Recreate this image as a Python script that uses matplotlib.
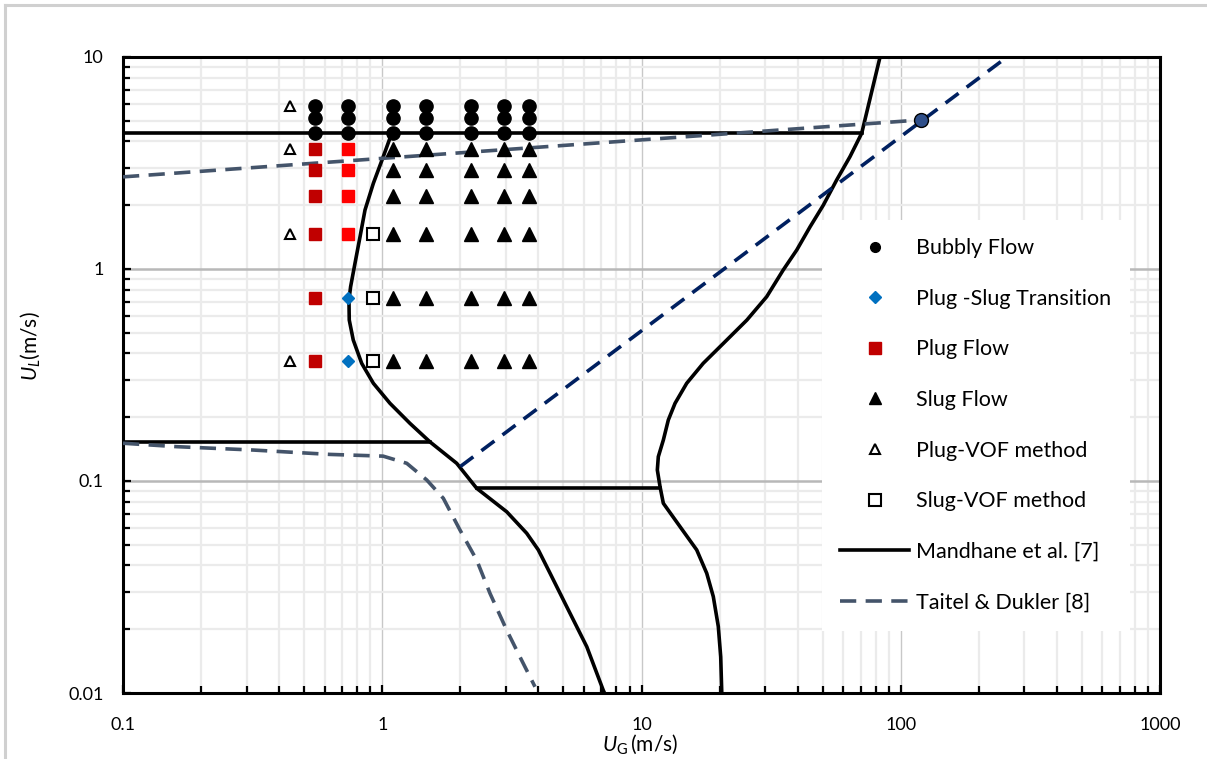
import matplotlib
matplotlib.use("Agg")
import matplotlib.pyplot as plt
from matplotlib.lines import Line2D
from matplotlib.ticker import FixedLocator, LogLocator, NullFormatter, FixedFormatter

plt.rcParams['font.family'] = ['Lato', 'DejaVu Sans']
plt.rcParams['mathtext.fontset'] = 'custom'
plt.rcParams['mathtext.rm'] = 'Lato'
plt.rcParams['mathtext.it'] = 'Lato:italic'

# ---- experimental flow-pattern observations (superficial velocities, m/s) ----
bubbly_ug = [0.55, 0.74, 1.10, 1.47, 2.20, 2.94, 3.68]
bubbly_ul = [4.40, 5.14, 5.87]

slug_ug = [1.10, 1.47, 2.20, 2.94, 3.68]
slug_ul = [0.367, 0.73, 1.47, 2.20, 2.94, 3.67]

plug_ug_a = [0.55, 0.55, 0.55, 0.55, 0.55, 0.55]
plug_ul_a = [3.67, 2.94, 2.20, 1.47, 0.73, 0.367]
plug_ug_b = [0.74, 0.74, 0.74, 0.74]
plug_ul_b = [3.67, 2.94, 2.20, 1.47]

trans_ug = [0.74, 0.74]
trans_ul = [0.73, 0.367]

plug_vof_ug = [0.44, 0.44, 0.44, 0.44]
plug_vof_ul = [5.87, 3.67, 1.47, 0.367]

slug_vof_ug = [0.92, 0.92, 0.92]
slug_vof_ul = [1.47, 0.73, 0.367]

marked_ug = [120.0]
marked_ul = [5.05]

# ---- Mandhane et al. map boundaries ----
mand_top_x = [0.1, 71.0]
mand_top_y = [4.37, 4.37]

mand_mid_x = [0.1, 1.527]
mand_mid_y = [0.153, 0.153]

mand_low_x = [2.31, 11.8]
mand_low_y = [0.0924, 0.0924]

mand_slug_x = [1.088, 1.009, 0.924, 0.858, 0.821, 0.785, 0.755, 0.744, 0.746, 0.773, 0.833,
               0.924, 1.071, 1.279, 1.527, 1.937, 2.313, 3.02, 3.607, 4.0, 4.44, 5.15, 6.15,
               7.12, 7.2]
mand_slug_y = [4.37, 3.387, 2.536, 1.898, 1.420, 1.064, 0.825, 0.714, 0.5745, 0.4624, 0.359,
               0.289, 0.2325, 0.187, 0.153, 0.1212, 0.0924, 0.0716, 0.0567, 0.0473, 0.0367,
               0.0255, 0.01654, 0.0103, 0.01]

mand_disp_x = [83.2, 70.7, 63.7, 56.6, 50.3, 44.7, 39.7, 35.2, 30.4, 25.5, 20.7, 17.3, 14.94,
               13.47, 12.69, 12.14, 11.61, 11.51, 11.79, 12.14, 14.08, 16.33, 17.85, 18.92,
               19.78, 20.21, 20.4]
mand_disp_y = [10.0, 4.37, 3.387, 2.63, 2.003, 1.582, 1.229, 0.989, 0.740, 0.5745, 0.446,
               0.359, 0.289, 0.2325, 0.194, 0.156, 0.1302, 0.1127, 0.094, 0.0785, 0.0609,
               0.0473, 0.0367, 0.0285, 0.0206, 0.0148, 0.01]

# ---- Taitel & Dukler map boundaries ----
td_upper_x = [0.1, 120.0]
td_upper_y = [2.72, 5.05]

td_lower_x = [0.1, 0.161, 0.317, 0.627, 1.008, 1.243, 1.485, 1.72, 1.995, 2.313, 2.604,
              3.02, 3.398, 3.883]
td_lower_y = [0.1507, 0.1452, 0.140, 0.1335, 0.131, 0.1212, 0.1011, 0.0829, 0.0587, 0.0424,
              0.0295, 0.0198, 0.0148, 0.0107]

td_diag_x = [2.0, 257.0]
td_diag_y = [0.117, 10.0]

x_ticks = [0.1, 1, 10, 100, 1000]
x_ticklabels = ["0.1", "1", "10", "100", "1000"]
y_ticks = [0.01, 0.1, 1, 10]
y_ticklabels = ["0.01", "0.1", "1", "10"]

# ---- figure ----
W, H = 1207, 759
fig = plt.figure(figsize=(W / 100, H / 100), dpi=100)
ax = fig.add_axes([123 / W, 1 - 693 / H, 1037 / W, 636 / H])
ax.set_xscale('log')
ax.set_yscale('log')
ax.set_xlim(0.1, 1000)
ax.set_ylim(0.01, 10)

# outer chart-area frame (left and top edges)
fig.add_artist(Line2D([5 / W, 5 / W], [0, 1 - 5 / H], color='#D0D0D0', lw=2.2,
                      transform=fig.transFigure))
fig.add_artist(Line2D([5 / W, 1], [1 - 5 / H, 1 - 5 / H], color='#D0D0D0', lw=2.2,
                      transform=fig.transFigure))

# ticks and gridlines
ax.xaxis.set_major_locator(FixedLocator(x_ticks))
ax.yaxis.set_major_locator(FixedLocator(y_ticks))
ax.xaxis.set_major_formatter(FixedFormatter(x_ticklabels))
ax.yaxis.set_major_formatter(FixedFormatter(y_ticklabels))
ax.xaxis.set_minor_locator(LogLocator(base=10, subs=range(2, 10), numticks=20))
ax.yaxis.set_minor_locator(LogLocator(base=10, subs=range(2, 10), numticks=20))
ax.xaxis.set_minor_formatter(NullFormatter())
ax.yaxis.set_minor_formatter(NullFormatter())

ax.grid(which='minor', axis='both', color='#EBEBEB', lw=1.6, zorder=0)
ax.grid(which='major', axis='x', color='#C8C8C8', lw=1.0, zorder=0)
ax.grid(which='major', axis='y', color='#B8B8B8', lw=1.8, zorder=0)
ax.set_axisbelow(True)

for s in ax.spines.values():
    s.set_color('black')
    s.set_linewidth(2.2)

ax.tick_params(which='both', direction='in', top=False, right=False, width=1.6, colors='black')
ax.tick_params(which='major', length=6)
ax.tick_params(which='minor', length=5)
ax.tick_params(axis='x', which='major', pad=17, labelsize=13)
ax.tick_params(axis='y', which='major', pad=14, labelsize=13)

# boundary lines
lw = 2.6
for xs, ys in [(mand_top_x, mand_top_y), (mand_mid_x, mand_mid_y), (mand_low_x, mand_low_y),
               (mand_slug_x, mand_slug_y), (mand_disp_x, mand_disp_y)]:
    ax.plot(xs, ys, color='black', lw=lw, solid_joinstyle='round', zorder=3)

slate = '#44546A'
navy = '#002060'
ax.plot(td_upper_x, td_upper_y, color=slate, lw=lw, dashes=(4.5, 2.6), zorder=3)
ax.plot(td_lower_x, td_lower_y, color=slate, lw=lw, dashes=(4.5, 2.6), zorder=3)
ax.plot(td_diag_x, td_diag_y, color=navy, lw=lw, dashes=(4.5, 2.8), zorder=3)

# observations
bx = [u for u in bubbly_ug for _ in bubbly_ul]
by = [v for _ in bubbly_ug for v in bubbly_ul]
sx = [u for u in slug_ug for _ in slug_ul]
sy = [v for _ in slug_ug for v in slug_ul]

ax.plot(bx, by, 'o', ms=9.5, color='black', ls='none', zorder=4)
ax.plot(trans_ug, trans_ul, 'D', ms=6.5, color='#0070C0', mec='#0070C0', ls='none', zorder=4)
ax.plot(plug_ug_a, plug_ul_a, 's', ms=8.5, color='#C00000', ls='none', zorder=4)
ax.plot(plug_ug_b, plug_ul_b, 's', ms=8.5, color='#FF0000', ls='none', zorder=4)
ax.plot(sx, sy, '^', ms=9.5, color='black', ls='none', zorder=4)
ax.plot(plug_vof_ug, plug_vof_ul, '^', ms=7.5, mfc='white', mec='black', mew=1.5, ls='none', zorder=4)
ax.plot(slug_vof_ug, slug_vof_ul, 's', ms=8, mfc='white', mec='black', mew=1.5, ls='none', zorder=4)
ax.plot(marked_ug, marked_ul, 'o', ms=10, mfc='#2F4F8A', mec='black', mew=1.0, ls='none', zorder=5)

# legend
handles = [
    Line2D([], [], marker='o', ms=7, color='black', ls='none'),
    Line2D([], [], marker='D', ms=6.5, color='#0070C0', ls='none'),
    Line2D([], [], marker='s', ms=8.5, color='#C00000', ls='none'),
    Line2D([], [], marker='^', ms=9, color='black', ls='none'),
    Line2D([], [], marker='^', ms=7.5, mfc='white', mec='black', mew=1.5, ls='none'),
    Line2D([], [], marker='s', ms=8, mfc='white', mec='black', mew=1.5, ls='none'),
    Line2D([], [], color='black', lw=lw),
    Line2D([], [], color=slate, lw=lw, dashes=(4.5, 2.6)),
]
labels = ["Bubbly Flow", "Plug -Slug Transition", "Plug Flow", "Slug Flow",
          "Plug-VOF method", "Slug-VOF method", "Mandhane et al. [7]", "Taitel & Dukler [8]"]
leg = ax.legend(handles, labels, loc='upper left',
                bbox_to_anchor=((822 - 123) / 1037, (693 - 220) / 636),
                borderaxespad=0, frameon=True, fancybox=False, framealpha=1,
                facecolor='white', edgecolor='none', fontsize=15.5,
                handlelength=3.2, handletextpad=0.32, labelspacing=1.42,
                borderpad=0.85)
leg.set_zorder(6)

ax.set_xlabel(r"$U_\mathrm{G}\,$(m/s)", fontsize=15)
ax.xaxis.set_label_coords(0.4985, -0.062)
ax.set_ylabel(r"$U_L$(m/s)", fontsize=15)
ax.yaxis.set_label_coords(-0.078, 0.545)

fig.savefig("out.png", dpi=100, facecolor='white')
